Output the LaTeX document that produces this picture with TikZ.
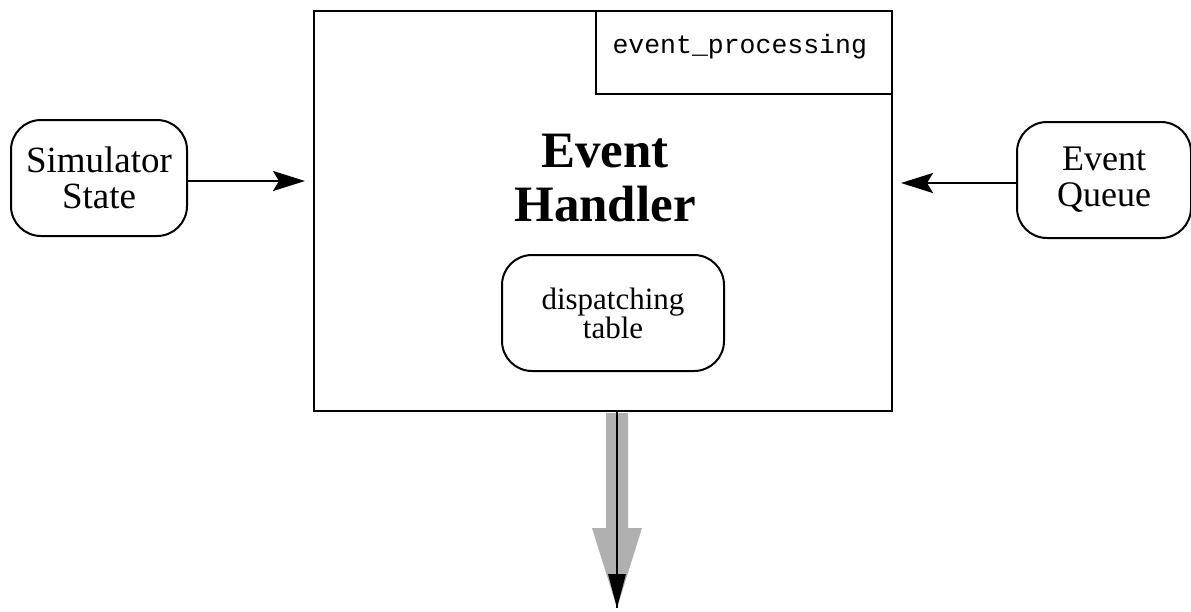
\documentclass[tikz,border=0pt]{standalone}
\usepackage{fontspec}
\setmainfont{Liberation Serif}
\setmonofont{Liberation Mono}
\usetikzlibrary{arrows.meta}
\tikzset{
  box/.style={draw, line width=2pt, inner sep=0pt},
  rbox/.style={draw, line width=2pt, rounded corners=30pt, inner sep=0pt, align=center},
  arr/.style={line width=2pt, -{Stealth[length=32pt, width=20pt, inset=6pt]}},
}
\begin{document}
\begin{tikzpicture}[x=1pt, y=-1pt]
\useasboundingbox (0,0) rectangle (1191,611);
% main box
\node[box, minimum width=578pt, minimum height=400pt] (handler) at (603,211) {};
\node[box, minimum width=296pt, minimum height=83pt] (label) at (744,52.5) {};
\node[anchor=base west, font=\ttfamily\fontsize{26.5}{30}\selectfont] (labeltext) at (609,53) {event\_processing};
\node[align=center, font=\bfseries\fontsize{51}{54}\selectfont] (title) at (605,178) {Event\\Handler};
\node[rbox, minimum width=222pt, minimum height=116pt, font=\fontsize{31}{29}\selectfont] (table) at (613,313) {dispatching\\table};
% side nodes
\node[rbox, minimum width=176pt, minimum height=116pt, font=\fontsize{37}{36}\selectfont] (sim) at (99,178) {Simulator\\State};
\node[rbox, minimum width=174pt, minimum height=116pt, font=\fontsize{36}{36}\selectfont] (queue) at (1104,180) {Event\\Queue};
% arrows
\draw[arr, shorten >=8pt] ([yshift=-3pt]sim.east) -- ([yshift=-3pt]sim.east -| handler.west);
\draw[arr, shorten >=8pt] ([yshift=-3pt]queue.west) -- ([yshift=-3pt]queue.west -| handler.east);
% big gray downward arrow
\coordinate (top) at (617,412);
\coordinate (out) at (617,608);
\fill[gray!62] (606,413) -- (628,413) -- (628,528) -- (642,528) -- (out) -- (592,528) -- (606,528) -- cycle;
\draw[line width=2pt] (top) -- (out);
\fill (608,574) -- (626,574) -- (out) -- cycle;
\end{tikzpicture}
\end{document}
